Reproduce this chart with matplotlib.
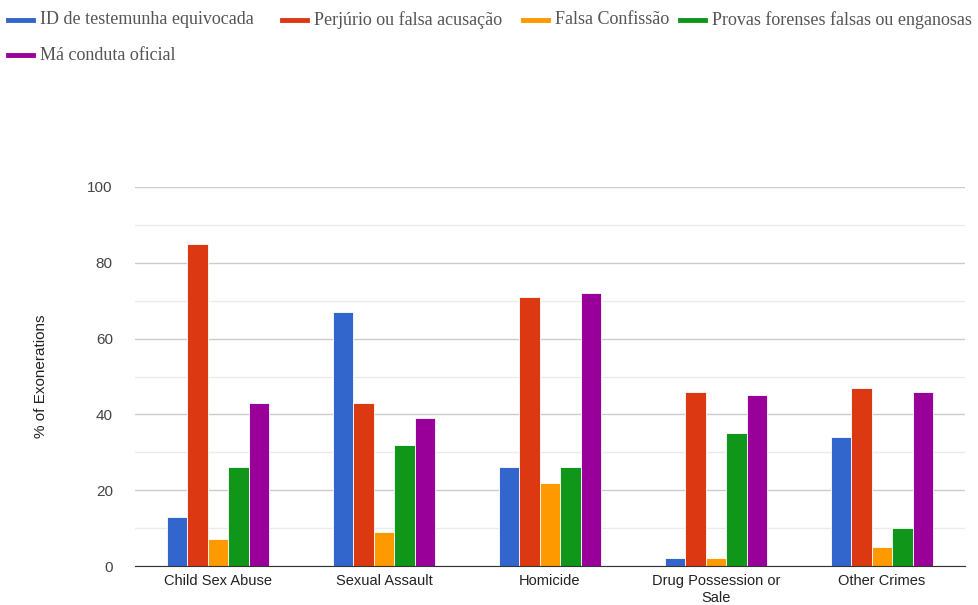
import numpy as np
import matplotlib.pyplot as plt
from matplotlib.lines import Line2D
from matplotlib.ticker import MultipleLocator

categories = ["Child Sex Abuse", "Sexual Assault", "Homicide",
              "Drug Possession or\nSale", "Other Crimes"]
series_names = ["ID de testemunha equivocada", "Perjúrio ou falsa acusação",
                "Falsa Confissão", "Provas forenses falsas ou enganosas",
                "Má conduta oficial"]
mistaken_id = [13, 67, 26, 2, 34]
perjury = [85, 43, 71, 46, 47]
false_confession = [7, 9, 22, 2, 5]
forensic = [26, 32, 26, 35, 10]
misconduct = [43, 39, 72, 45, 46]

series = [mistaken_id, perjury, false_confession, forensic, misconduct]
colors = ["#3366cc", "#dc3912", "#ff9900", "#109618", "#990099"]

W, H = 979, 605
fig = plt.figure(figsize=(W / 100, H / 100), dpi=100)
ax = fig.add_axes([135 / W, 1 - 566 / H, 830 / W, (566 - 187) / H])

x = np.arange(len(categories))
bw = 0.124
for i, (vals, c) in enumerate(zip(series, colors)):
    ax.bar(x + (i - 2) * bw, vals, width=bw, color=c,
           edgecolor="white", linewidth=0.6, zorder=3)

ax.set_xlim(-0.5, len(categories) - 0.5)
ax.set_ylim(0, 100)
ax.yaxis.set_major_locator(MultipleLocator(20))
ax.yaxis.set_minor_locator(MultipleLocator(10))
ax.grid(which="major", axis="y", color="#cccccc", linewidth=1, zorder=0)
ax.grid(which="minor", axis="y", color="#ebebeb", linewidth=1, zorder=0)
for s in ["top", "right", "left"]:
    ax.spines[s].set_visible(False)
ax.spines["bottom"].set_color("#333333")
ax.spines["bottom"].set_zorder(4)
ax.tick_params(which="both", length=0)
ax.tick_params(axis="y", pad=16, labelsize=11, labelcolor="#444444")
ax.tick_params(axis="x", pad=6, labelsize=10.5, labelcolor="#222222")
ax.set_xticks(x)
ax.set_xticklabels(categories, family="Liberation Sans")
for lab in ax.get_yticklabels():
    lab.set_family("Liberation Sans")
ax.set_ylabel("% of Exonerations", family="Liberation Sans", fontsize=11,
              color="#222222", labelpad=28)

# legend drawn by hand: four entries on the first row, one on the second
legend_slots = [(8, 20), (282, 20), (523, 20), (680, 20), (8, 55)]
for (xp, yy), name, c in zip(legend_slots, series_names, colors):
    fy = 1 - yy / H
    fig.add_artist(Line2D([xp / W, (xp + 25) / W], [fy, fy], color=c,
                          linewidth=3.5, transform=fig.transFigure))
    fig.text((xp + 32) / W, fy, name, va="center", ha="left",
             fontsize=13, family="Liberation Serif", color="#555555")

fig.savefig("out.png", dpi=100)
